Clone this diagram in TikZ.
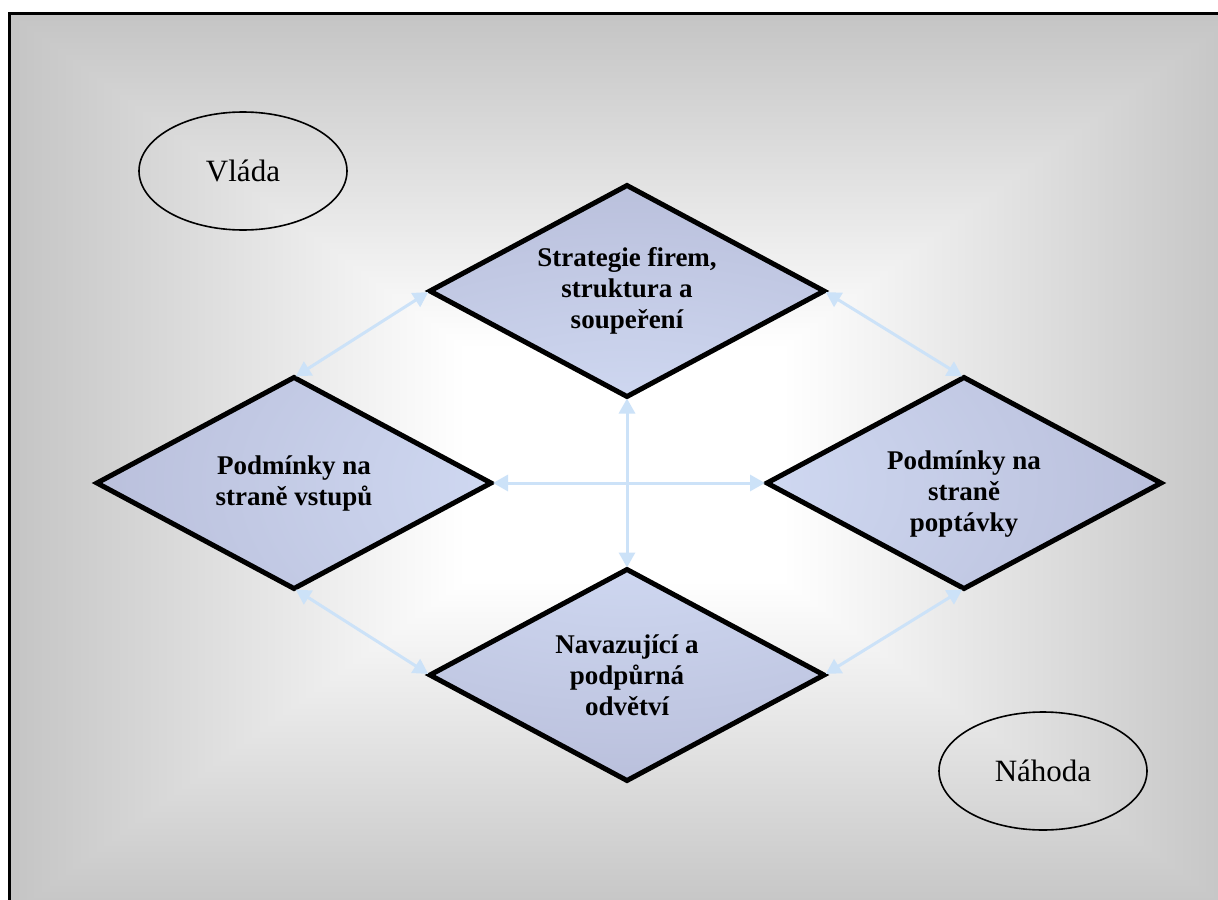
\documentclass[tikz,border=0pt]{standalone}
\usepackage{fontspec}
\setmainfont{Liberation Serif}
\usetikzlibrary{shapes.geometric,arrows.meta}
\pgfdeclarelayer{bga}
\pgfdeclarelayer{bgb}
\pgfsetlayers{bga,bgb,main}
\definecolor{arrowblue}{RGB}{204,226,248}
\definecolor{dlight}{RGB}{214,224,248}
\definecolor{ddark}{RGB}{186,192,220}
\pgfdeclarefunctionalshading{rectgrad}{\pgfpoint{-50bp}{-50bp}}{\pgfpoint{50bp}{50bp}}{}{abs exch abs 2 copy sub abs add add 2 div 25 div 0.31 mul 1.08 exch sub dup 1 sub abs neg exch 1 add add 2 div dup dup}
\begin{document}
\begin{tikzpicture}[x=1bp,y=-1bp,
  dia/.style={diamond, draw, line width=5bp, minimum width=394bp, minimum height=211bp, aspect=1.87, inner sep=0pt, outer sep=0pt, align=center, font=\fontsize{27bp}{31bp}\selectfont\bfseries},
  oval/.style={ellipse, draw, line width=1.6bp, minimum width=208bp, minimum height=118bp, inner sep=0pt, font=\fontsize{31bp}{36bp}\selectfont},
  link/.style={arrowblue, line width=3bp, {Triangle[length=15bp,width=16bp]}-{Triangle[length=15bp,width=16bp]}, shorten <=2bp, shorten >=2bp}]
\useasboundingbox (0,0) rectangle (1218,900);
\begin{pgfonlayer}{bga}
\shade[shading=rectgrad] (9.5,13.5) rectangle (1238,915);
\end{pgfonlayer}

\node[dia] (top) at (627,291) {Strategie firem,\\struktura a\\soupeření};
\node[dia] (left) at (294,483) {Podmínky na\\straně vstupů};
\node[dia] (right) at (964,483) {\rule{0pt}{40bp}Podmínky na\\straně\\poptávky};
\node[dia] (bottom) at (627,675) {Navazující a\\podpůrná\\odvětví};

\node[oval] (vlada) at (243,171) {Vláda};
\node[oval] (nahoda) at (1043,771) {Náhoda};

\begin{pgfonlayer}{bgb}
\shade[inner color=dlight, outer color=ddark]
  (top.north) -- (top.east) -- (top.south) -- (top.west) -- cycle
  (left.north) -- (left.east) -- (left.south) -- (left.west) -- cycle
  (right.north) -- (right.east) -- (right.south) -- (right.west) -- cycle
  (bottom.north) -- (bottom.east) -- (bottom.south) -- (bottom.west) -- cycle;
\end{pgfonlayer}

\draw[link] (top.west) -- (left.north);
\draw[link] (top.east) -- (right.north);
\draw[link] (left.south) -- (bottom.west);
\draw[link] (right.south) -- (bottom.east);
\draw[link] (top.south) -- (bottom.north);
\draw[link] (left.east) -- (right.west);

\draw[line width=3.5bp] (9.5,13.5) rectangle (1238,915);
\end{tikzpicture}
\end{document}
